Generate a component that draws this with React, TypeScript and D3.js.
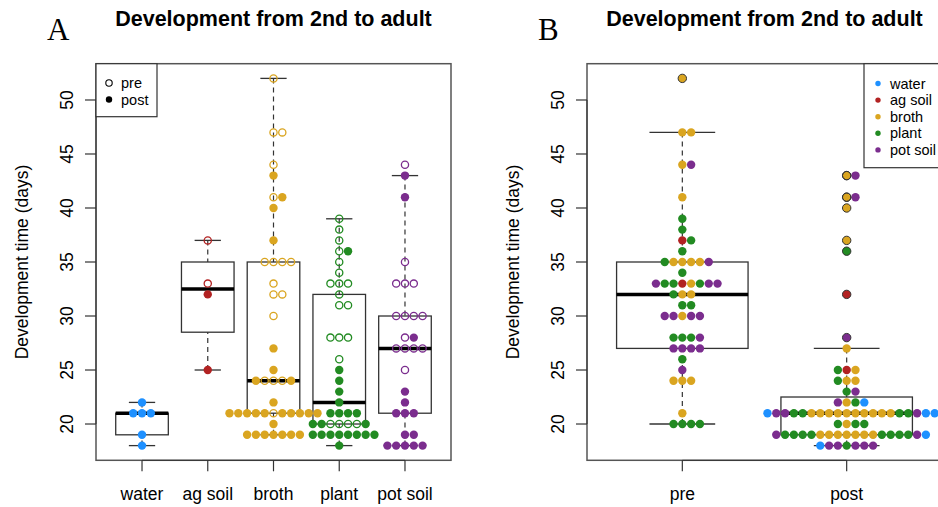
import React from "react";
import * as d3 from "d3";

const W = 938;
const H = 507;

const hosts = ["water", "ag soil", "broth", "plant", "pot soil"];
const hostColors = ["#1E90FF", "#B22222", "#DAA520", "#228B22", "#7B2D8E"];
const stages = ["pre", "post"];
const yTicks = [20, 25, 30, 35, 40, 45, 50];
const title = "Development from 2nd to adult";
const yTitle = "Development time (days)";

const waterPre: number[] = [];
const waterPost = [22, 21, 21, 21, 19, 18];
const agSoilPre = [37, 33];
const agSoilPost = [32, 25];
const brothPre = [52, 47, 47, 44, 41, 35, 35, 35, 35, 33, 32, 32, 30, 24, 24, 24, 21];
const brothPost = [43, 41, 40, 37, 27, 25, 24, 24, 22, 21, 21, 21, 21, 21, 21, 21, 21, 21, 21, 20,
  19, 19, 19, 19, 19, 19, 19];
const plantPre = [39, 38, 37, 36, 35, 34, 33, 33, 33, 32, 31, 31, 28, 28, 28, 26, 20, 20, 20, 20];
const plantPost = [36, 25, 24, 23, 22, 21, 21, 21, 21, 20, 20, 20, 19, 19, 19, 19, 19, 19, 19, 19, 18];
const potSoilPre = [44, 35, 33, 33, 33, 30, 30, 30, 30, 28, 27, 27, 27, 27, 25];
const potSoilPost = [43, 41, 28, 23, 22, 21, 21, 21, 19, 19, 18, 18, 18, 18, 18];

const preByHost = [waterPre, agSoilPre, brothPre, plantPre, potSoilPre];
const postByHost = [waterPost, agSoilPost, brothPost, plantPost, potSoilPost];

type Obs = { host: number; stage: number; value: number };

// rows in the original order: hosts alphabetically, pre before post
const obs: Obs[] = [];
hosts
  .map((_, i) => i)
  .sort((a, b) => d3.ascending(hosts[a], hosts[b]))
  .forEach((h) => {
    preByHost[h].forEach((value) => obs.push({ host: h, stage: 0, value }));
    postByHost[h].forEach((value) => obs.push({ host: h, stage: 1, value }));
  });

const FONT = "Liberation Sans, Arial, Helvetica, sans-serif";
const PW = 355;
const STEP = 8.8;
const R = 4.2;

const yExt = d3.extent(obs, (d) => d.value) as [number, number];
const yPad = (yExt[1] - yExt[0]) * 0.04;
const y = d3.scaleLinear().domain([yExt[0] - yPad, yExt[1] + yPad]).range([460.3, 63.7]);

// like R's boxplot.stats (fivenum hinges, 1.5 IQR whiskers)
function boxStats(vals: number[]) {
  const x = vals.slice().sort(d3.ascending);
  const n = x.length;
  const n4 = Math.floor((n + 3) / 2) / 2;
  const f = [1, n4, (n + 1) / 2, n + 1 - n4, n].map(
    (d) => 0.5 * (x[Math.floor(d) - 1] + x[Math.ceil(d) - 1])
  );
  const iqr = f[3] - f[1];
  const lo = d3.min(x.filter((v) => v >= f[1] - 1.5 * iqr)) as number;
  const hi = d3.max(x.filter((v) => v <= f[3] + 1.5 * iqr)) as number;
  return { q1: f[1], med: f[2], q3: f[3], lo, hi, out: x.filter((v) => v < lo || v > hi) };
}

// swarm on tied values: 0, +1, -1, +2, -2 ...
function swarmOffsets(items: Obs[], col: (o: Obs) => number) {
  const count = new Map<string, number>();
  return items.map((o) => {
    const key = col(o) + "|" + o.value;
    const k = count.get(key) || 0;
    count.set(key, k + 1);
    return k === 0 ? 0 : k % 2 ? (k + 1) / 2 : -k / 2;
  });
}

type PanelProps = {
  left: number;
  tag: string;
  cats: string[];
  col: (o: Obs) => number;
  open: (o: Obs) => boolean;
  showOut: boolean;
  legend: React.ReactNode;
};

function Panel({ left, tag, cats, col, open, showOut, legend }: PanelProps) {
  const right = left + PW;
  const n = cats.length;
  const x = d3
    .scaleLinear()
    .domain([0.5 - 0.04 * n, n + 0.5 + 0.04 * n])
    .range([left, right]);
  const bw = x(1.4) - x(1);
  const offs = swarmOffsets(obs, col);
  const top = y.range()[1];
  const bottom = y.range()[0];

  return (
    <g>
      <text x={left - 49} y={40} fontFamily="Liberation Serif, Times New Roman, serif" fontSize={31}>
        {tag}
      </text>
      <text x={(left + right) / 2} y={26} textAnchor="middle" fontFamily={FONT} fontWeight="bold" fontSize={21.5}>
        {title}
      </text>

      {cats.map((c, i) => {
        const s = boxStats(obs.filter((o) => col(o) === i).map((o) => o.value));
        const cx = x(i + 1);
        return (
          <g key={c} stroke="#333" fill="none">
            <line x1={cx} x2={cx} y1={y(s.hi)} y2={y(s.q3)} strokeWidth={1.2} strokeDasharray="5,4" />
            <line x1={cx} x2={cx} y1={y(s.lo)} y2={y(s.q1)} strokeWidth={1.2} strokeDasharray="5,4" />
            <line x1={cx - bw / 2} x2={cx + bw / 2} y1={y(s.hi)} y2={y(s.hi)} strokeWidth={1.3} />
            <line x1={cx - bw / 2} x2={cx + bw / 2} y1={y(s.lo)} y2={y(s.lo)} strokeWidth={1.3} />
            <rect x={cx - bw} y={y(s.q3)} width={bw * 2} height={y(s.q1) - y(s.q3)} strokeWidth={1.3} />
            <line x1={cx - bw} x2={cx + bw} y1={y(s.med)} y2={y(s.med)} stroke="#000" strokeWidth={3.5} />
          </g>
        );
      })}

      {obs.map((o, i) => {
        const c = hostColors[o.host];
        const cx = x(col(o) + 1) + offs[i] * STEP;
        return open(o) ? (
          <circle key={i} cx={cx} cy={y(o.value)} r={R - 0.6} fill="none" stroke={c} strokeWidth={1.3} />
        ) : (
          <circle key={i} cx={cx} cy={y(o.value)} r={R} fill={c} />
        );
      })}

      {showOut &&
        cats.map((c, i) => {
          const s = boxStats(obs.filter((o) => col(o) === i).map((o) => o.value));
          return s.out.map((v, j) => (
            <circle key={c + j} cx={x(i + 1)} cy={y(v)} r={R} fill="none" stroke="#333" strokeWidth={1} />
          ));
        })}

      <rect x={left} y={top} width={right - left} height={bottom - top} fill="none" stroke="#555" strokeWidth={1.5} />

      {/* y axis */}
      <g fontFamily={FONT} fontSize={17.5}>
        <line x1={left} x2={left} y1={y(yTicks[0])} y2={y(yTicks[yTicks.length - 1])} stroke="#333" />
        {yTicks.map((t) => (
          <g key={t}>
            <line x1={left - 11} x2={left} y1={y(t)} y2={y(t)} stroke="#333" strokeWidth={1.2} />
            <text transform={`translate(${left - 23.5},${y(t)}) rotate(-90)`} textAnchor="middle">
              {t}
            </text>
          </g>
        ))}
        <text transform={`translate(${left - 68},${(top + bottom) / 2}) rotate(-90)`} textAnchor="middle">
          {yTitle}
        </text>
      </g>

      {/* x axis */}
      <g fontFamily={FONT} fontSize={17.5}>
        <line x1={x(1)} x2={x(n)} y1={bottom} y2={bottom} stroke="#333" />
        {cats.map((c, i) => (
          <g key={c}>
            <line x1={x(i + 1)} x2={x(i + 1)} y1={bottom} y2={bottom + 11} stroke="#333" strokeWidth={1.2} />
            <text x={x(i + 1)} y={500} textAnchor="middle">
              {c}
            </text>
          </g>
        ))}
      </g>

      {legend}
    </g>
  );
}

export default function App() {
  const top = y.range()[1];
  const legendA = (
    <g fontFamily={FONT} fontSize={14.5}>
      <rect x={96} y={top} width={61} height={53} fill="#fff" stroke="#333" strokeWidth={1.2} />
      {stages.map((s, i) => (
        <g key={s}>
          <circle
            cx={109}
            cy={83 + i * 16.5}
            r={3.2}
            fill={i === 0 ? "none" : "#000"}
            stroke="#000"
            strokeWidth={i === 0 ? 1.1 : 0}
          />
          <text x={121} y={88 + i * 16.5}>
            {s}
          </text>
        </g>
      ))}
    </g>
  );
  const legendB = (
    <g fontFamily={FONT} fontSize={14.5}>
      <rect x={864} y={top} width={90} height={104} fill="#fff" stroke="#333" strokeWidth={1.2} />
      {hosts.map((h, i) => (
        <g key={h}>
          <circle cx={878} cy={83.5 + i * 16.6} r={2.7} fill={hostColors[i]} />
          <text x={890} y={88.5 + i * 16.6}>
            {h}
          </text>
        </g>
      ))}
    </g>
  );

  return (
    <svg
      width={W}
      height={H}
      viewBox={`0 0 ${W} ${H}`}
      style={{ position: "absolute", left: 0, top: 0, background: "#fff" }}
    >
      <Panel
        left={96}
        tag="A"
        cats={hosts}
        col={(o) => o.host}
        open={(o) => o.stage === 0}
        showOut={false}
        legend={legendA}
      />
      <Panel
        left={587}
        tag="B"
        cats={stages}
        col={(o) => o.stage}
        open={() => false}
        showOut={true}
        legend={legendB}
      />
    </svg>
  );
}
